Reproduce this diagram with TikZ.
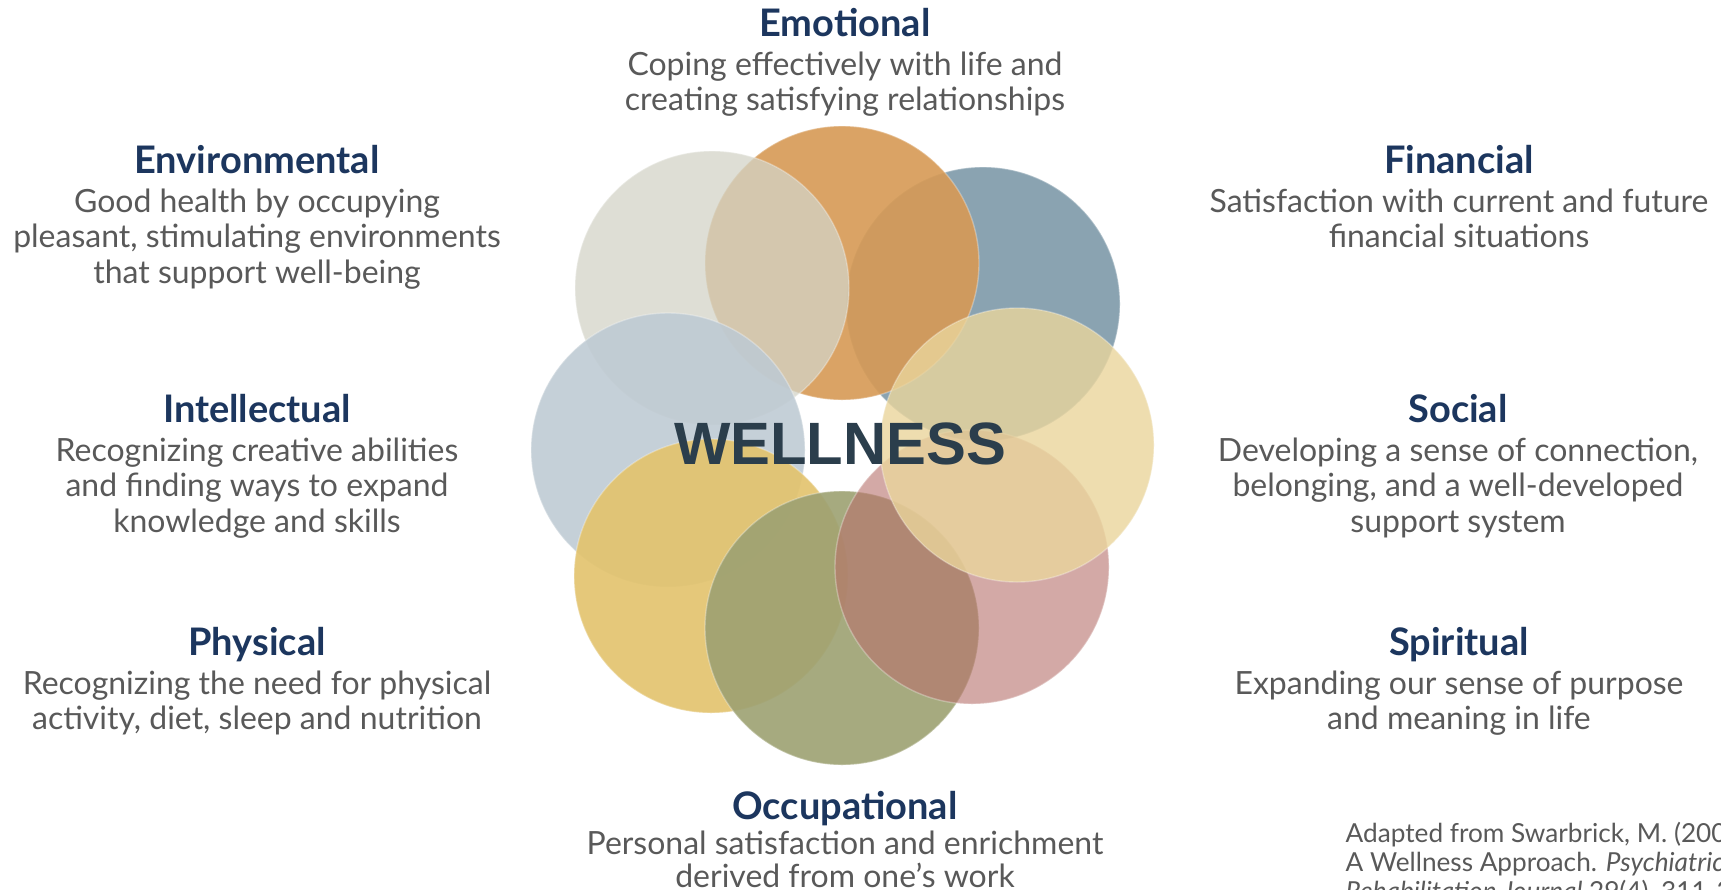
\documentclass[tikz,border=0pt]{standalone}
\usepackage{fontspec}
\setmainfont{Lato}
\newfontfamily\wellfont{Liberation Sans}
\usetikzlibrary{positioning}
\definecolor{navy}{RGB}{28,54,94}
\definecolor{txtgray}{RGB}{89,89,89}
\definecolor{wellblue}{RGB}{43,62,76}
\definecolor{emocol}{HTML}{D79A55}
\definecolor{fincol}{HTML}{8AA3B1}
\definecolor{envcol}{HTML}{D3D4C7}
\definecolor{intcol}{HTML}{BECAD3}
\definecolor{phycol}{HTML}{E3C36C}
\definecolor{occcol}{HTML}{9DA172}
\definecolor{spicol}{HTML}{B7716B}
\definecolor{soccol}{HTML}{EAD59C}

\begin{document}
\begin{tikzpicture}[
ttl/.style={font=\fontsize{10.8}{13}\selectfont\bfseries, text=navy, anchor=base, inner sep=0},
txt/.style={font=\fontsize{9.1}{10.1}\selectfont, text=txtgray, align=center, inner sep=0},
petal/.style={circle, minimum size=2.74cm, inner sep=0, fill opacity=0.9,
  draw=white, draw opacity=0.3, line width=0.4pt},
node distance=1.5mm]

\clip (0,0) rectangle (17.21,-8.89);
\fill[white] (0,0) rectangle (17.21,-8.89);

% the eight circles
\node[petal, fill=fincol, fill opacity=1] (fin) at (9.83,-3.04) {};
\node[petal, fill=emocol] (emo) at (8.42,-2.63) {};
\node[petal, fill=envcol, fill opacity=0.75] (env) at (7.12,-2.88) {};
\node[petal, fill=intcol, fill opacity=0.88] (int) at (6.68,-4.50) {};
\node[petal, fill=phycol] (phy) at (7.11,-5.76) {};
\node[petal, fill=occcol] (occ) at (8.42,-6.28) {};
\node[petal, fill=spicol, fill opacity=0.6] (spi) at (9.72,-5.67) {};
\node[petal, fill=soccol, fill opacity=0.8] (soc) at (10.17,-4.45) {};

\node[font=\wellfont\bfseries\fontsize{17}{20}\selectfont, text=wellblue] (well) at (8.40,-4.44) {WELLNESS};

% labels
\node[ttl] (emoT) at (8.45,-0.36) {Emotional};
\node[txt, below=of emoT.base] (emoB) {Coping effectively with life and\\creating satisfying relationships};

\node[ttl] (envT) at (2.57,-1.73) {Environmental};
\node[txt, below=of envT.base] (envB) {Good health by occupying\\pleasant, stimulating environments\\that support well-being};

\node[ttl] (intT) at (2.57,-4.22) {Intellectual};
\node[txt, below=of intT.base] (intB) {Recognizing creative abilities\\and finding ways to expand\\knowledge and skills};

\node[ttl] (phyT) at (2.57,-6.55) {Physical};
\node[txt, below=of phyT.base] (phyB) {Recognizing the need for physical\\activity, diet, sleep and nutrition};

\node[ttl] (finT) at (14.59,-1.73) {Financial};
\node[txt, below=of finT.base] (finB) {Satisfaction with current and future\\financial situations};

\node[ttl] (socT) at (14.58,-4.22) {Social};
\node[txt, below=of socT.base] (socB) {Developing a sense of connection,\\belonging, and a well-developed\\support system};

\node[ttl] (spiT) at (14.59,-6.55) {Spiritual};
\node[txt, below=of spiT.base] (spiB) {Expanding our sense of purpose\\and meaning in life};

\node[ttl] (occT) at (8.45,-8.19) {Occupational};
\node[txt, font=\fontsize{9.1}{9.5}\selectfont, below=1.1mm of occT.base] (occB) {Personal satisfaction and enrichment\\derived from one’s work};

% source
\node[font=\fontsize{7.45}{8.25}\selectfont, text=txtgray, align=left, anchor=north west, inner sep=0] (src) at (13.45,-8.21)
  {Adapted from Swarbrick, M. (2006).\\A Wellness Approach. \textit{Psychiatric}\\\textit{Rehabilitation Journal} 29(4), 311-314.};
\end{tikzpicture}
\end{document}
